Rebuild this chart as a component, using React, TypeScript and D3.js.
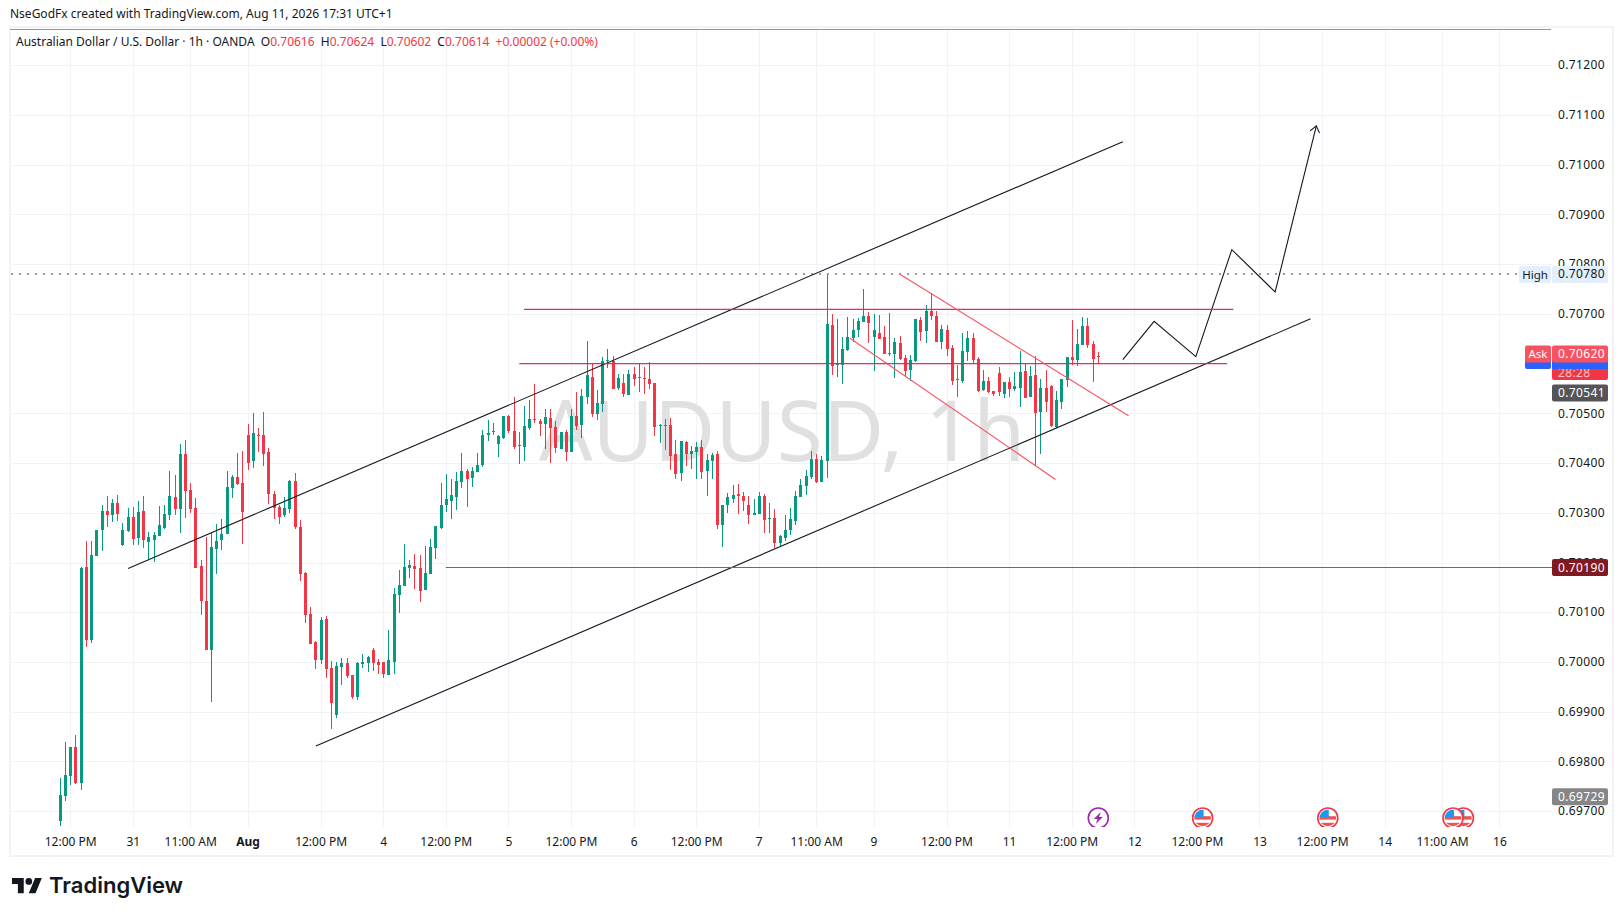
import React from 'react'
import * as d3 from 'd3'

// AUDUSD 1h, prices stored as points above 0.70000 (1 point = 0.00001)
const opens = [
  -320, -269, -229, -171, -243, 191, 45, 213, 265, 303,
  295, 319, 235, 263, 291, 249, 303, 241, 245, 253,
  269, 295, 331, 307, 419, 345, 309, 193, 123, 25,
  227, 245, 257, 349, 371, 359, 457, 405, 457, 457,
  423, 337, 311, 295, 307, 363, 271, 179, 97, 41,
  5, 87, -13, -107, -11, -3, -27, -71, -5, -3,
  25, -1, -1, -27, 1, 135, 153, 189, 193, 189,
  145, 177, 229, 269, 315, 323, 331, 361, 385, 369,
  381, 397, 457, 463, 439, 451, 495, 465, 435, 433,
  471, 489, 485, 479, 491, 473, 429, 463, 423, 495,
  477, 533, 573, 499, 519, 605, 605, 551, 561, 537,
  579, 571, 571, 569, 561, 475, 477, 477, 419, 379,
  443, 419, 423, 433, 383, 405, 419, 275, 315, 327,
  337, 333, 315, 295, 297, 333, 287, 289, 239, 249,
  265, 283, 331, 353, 371, 409, 361, 405, 677, 597,
  597, 627, 651, 667, 683, 695, 653, 661, 653, 621,
  619, 641, 611, 587, 605, 687, 665, 705, 695, 643,
  667, 631, 569, 565, 623, 651, 609, 547, 565, 545,
  581, 539, 563, 549, 551, 585, 533, 577, 503, 551,
  555, 473, 523, 567, 613, 607, 637, 675, 639, 616,
]
const highs = [
  -233, -160, -171, -147, 190, 244, 243, 265, 315, 333,
  327, 335, 280, 309, 311, 323, 333, 261, 261, 313,
  315, 385, 375, 439, 447, 359, 329, 205, 251, 261,
  277, 287, 385, 375, 421, 425, 479, 501, 471, 503,
  431, 343, 315, 331, 365, 379, 285, 181, 111, 43,
  91, 93, 3, 1, 9, 9, -27, 1, 17, 13,
  29, 7, 1, 65, 149, 185, 237, 205, 217, 215,
  233, 247, 273, 359, 377, 367, 381, 421, 389, 393,
  421, 467, 487, 481, 457, 495, 497, 533, 463, 515,
  527, 559, 489, 509, 509, 485, 463, 467, 509, 543,
  549, 645, 601, 547, 613, 629, 615, 579, 579, 587,
  593, 601, 593, 603, 561, 479, 489, 491, 447, 445,
  445, 435, 443, 447, 419, 421, 425, 315, 339, 355,
  357, 341, 333, 327, 341, 337, 319, 307, 255, 295,
  309, 343, 367, 387, 425, 419, 415, 779, 699, 689,
  653, 693, 689, 691, 749, 703, 699, 697, 675, 701,
  651, 655, 617, 617, 689, 693, 717, 741, 705, 677,
  677, 637, 597, 661, 665, 661, 613, 587, 573, 545,
  593, 563, 573, 583, 625, 599, 595, 615, 569, 587,
  557, 545, 569, 613, 687, 669, 693, 691, 645, 624,
]
const lows = [
  -330, -279, -247, -245, -257, 31, 39, 213, 223, 271,
  281, 283, 233, 261, 235, 235, 229, 207, 201, 253,
  267, 285, 295, 259, 289, 299, 189, 95, 25, -81,
  177, 225, 257, 329, 355, 237, 387, 391, 423, 395,
  317, 287, 277, 291, 299, 267, 163, 79, 37, -15,
  -5, -33, -135, -113, -47, -33, -75, -77, -13, -21,
  -19, -25, -33, -27, -25, 99, 153, 169, 147, 121,
  145, 177, 207, 267, 301, 287, 305, 349, 311, 351,
  381, 393, 445, 457, 413, 449, 461, 429, 399, 405,
  467, 481, 455, 429, 401, 421, 429, 405, 423, 467,
  451, 519, 493, 487, 503, 591, 549, 547, 533, 537,
  555, 543, 539, 549, 455, 441, 427, 387, 367, 363,
  395, 389, 367, 367, 333, 367, 267, 231, 299, 319,
  297, 303, 277, 295, 297, 259, 259, 229, 233, 243,
  255, 275, 331, 335, 367, 359, 361, 369, 577, 573,
  559, 625, 643, 653, 683, 641, 585, 649, 619, 615,
  571, 607, 575, 565, 603, 645, 641, 687, 643, 629,
  615, 557, 533, 561, 605, 601, 543, 545, 541, 535,
  535, 531, 533, 545, 513, 531, 533, 395, 419, 503,
  473, 471, 509, 553, 597, 595, 637, 631, 563, 602,
]
const closes = [
  -268, -227, -171, -244, 189, 45, 215, 265, 303, 295,
  319, 297, 265, 291, 247, 301, 245, 251, 255, 275,
  297, 333, 307, 419, 343, 307, 189, 123, 25, 231,
  243, 257, 351, 371, 357, 301, 401, 461, 455, 419,
  337, 309, 291, 309, 363, 271, 177, 95, 37, 5,
  85, -15, -83, -9, -3, -29, -71, -3, 1, 11,
  -3, -7, -25, 5, 137, 155, 191, 195, 187, 143,
  179, 231, 273, 315, 327, 335, 363, 385, 367, 383,
  397, 457, 461, 465, 455, 495, 465, 433, 437, 475,
  489, 487, 479, 493, 471, 431, 463, 423, 495, 475,
  535, 577, 499, 521, 605, 607, 549, 571, 539, 579,
  569, 573, 569, 559, 473, 477, 475, 415, 377, 445,
  419, 425, 433, 381, 407, 417, 275, 315, 331, 335,
  333, 323, 295, 299, 333, 285, 289, 239, 253, 265,
  287, 333, 355, 373, 409, 361, 407, 679, 595, 599,
  629, 653, 667, 685, 695, 681, 667, 649, 619, 619,
  643, 609, 585, 607, 689, 663, 705, 695, 643, 669,
  629, 565, 567, 625, 651, 607, 545, 565, 543, 539,
  543, 563, 549, 555, 583, 531, 575, 501, 551, 523,
  475, 527, 569, 613, 607, 639, 675, 637, 609, 614,
]

const priceTicks = [
  71200, 71100, 71000, 70900, 70800, 70700, 70500, 70400, 70300, 70200, 70100,
  70000, 69900, 69800, 69700,
]
const timeIndex = [2, 14, 25, 36, 50, 62, 74, 86, 98, 110, 122, 134, 145, 156, 170, 182, 194, 206, 218, 230, 242, 254, 265, 276]
const timeLabels = [
  '12:00 PM', '31', '11:00 AM', 'Aug', '12:00 PM', '4', '12:00 PM', '5', '12:00 PM', '6', '12:00 PM', '7',
  '11:00 AM', '9', '12:00 PM', '11', '12:00 PM', '12', '12:00 PM', '13', '12:00 PM', '14', '11:00 AM', '16',
]

// drawings: [bar index, points]
const upperChannel = [[13, 188], [203.7, 1046]]
const lowerChannel = [[49, -169], [239.7, 690]]
const resistance = [[88.9, 709], [224.9, 709]]
const support = [[88, 600], [223.7, 600]]
const demandLine = [[73.9, 190], [292, 190]]
const flagTop = [[160.9, 780], [204.8, 495]]
const flagBottom = [[151.4, 651], [190.8, 367]]
const projection = [[203.7, 608], [209.7, 685], [217.7, 614], [224.6, 829], [232.9, 744], [240.8, 1078]]
const usEvents = [219, 243, 267, 269]
const boltEvent = 199

const WIDTH = 1623
const HEIGHT = 916
const UP = '#089981'
const DOWN = '#f23645'
const GRID = '#f2f3f6'
const TEXT = '#131722'
const FONT = "'Noto Sans', sans-serif"

const x = d3.scaleLinear().domain([0, 199]).range([60.3, 1098.3])
const y = d3.scaleLinear().domain([70500, 70000]).range([413.3, 662])
const py = (p: number) => y(70000 + p)

const seg = d3.line<number[]>().x((d) => x(d[0])).y((d) => py(d[1]))

function Candles() {
  return (
    <g shapeRendering="crispEdges">
      {opens.map((o, i) => {
        const c = closes[i]
        const cx = Math.floor(x(i))
        const color = c >= o ? UP : DOWN
        const top = Math.round(py(Math.max(o, c)))
        const h = Math.max(1, Math.round(py(Math.min(o, c))) - top)
        return (
          <g key={i} fill={color}>
            <rect x={cx} y={py(highs[i])} width={1} height={py(lows[i]) - py(highs[i])} />
            <rect x={cx - 1} y={top} width={3} height={h} />
          </g>
        )
      })}
    </g>
  )
}

function PriceTag(props: { value: number; fill: string; color?: string; label?: string; text?: string; dy?: number }) {
  const { value, fill, color = '#fff', label, text, dy = 0 } = props
  const yy = y(value) + dy
  return (
    <g>
      {label && <rect x={1522} y={yy - 8.5} width={29} height={17} rx={2} fill={fill} />}
      {label && (
        <text x={1536.5} y={yy + 4} textAnchor="middle" fontSize={11.5} fill={color}>
          {label}
        </text>
      )}
      <rect x={1552} y={yy - 8.5} width={56} height={17} rx={2} fill={fill} />
      <text x={1558} y={yy + 4.2} fontSize={12} fill={color} letterSpacing={0.35}>
        {text ?? (value / 100000).toFixed(5)}
      </text>
    </g>
  )
}

function UsFlag({ cx, cy }: { cx: number; cy: number }) {
  const id = `flag-${cx.toFixed(0)}`
  return (
    <g>
      <clipPath id={id}>
        <circle cx={cx} cy={cy} r={8.3} />
      </clipPath>
      <circle cx={cx} cy={cy} r={10} fill="#fff" stroke={DOWN} strokeWidth={1.6} />
      <g clipPath={`url(#${id})`}>
        <rect x={cx - 9} y={cy - 9} width={18} height={18} fill="#fff" />
        <rect x={cx - 9} y={cy - 1.8} width={18} height={3.4} fill="#ef5350" />
        <rect x={cx - 9} y={cy + 4.8} width={18} height={4.5} fill="#ef5350" />
        <rect x={cx - 9} y={cy - 9} width={10} height={8} fill="#2196f3" />
      </g>
    </g>
  )
}

function Bolt({ cx, cy }: { cx: number; cy: number }) {
  return (
    <g>
      <circle cx={cx} cy={cy} r={10} fill="#fff" stroke="#9c27b0" strokeWidth={1.6} />
      <path
        d={`M${cx + 2.5} ${cy - 6} L${cx - 4.5} ${cy + 1} L${cx - 0.8} ${cy + 1} L${cx - 2.5} ${cy + 6} L${cx + 4.5} ${cy - 1} L${cx + 0.8} ${cy - 1} Z`}
        fill="#9c27b0"
      />
    </g>
  )
}

function Arrowhead({ from, to }: { from: number[]; to: number[] }) {
  const x1 = x(to[0])
  const y1 = py(to[1])
  const a = Math.atan2(py(from[1]) - y1, x(from[0]) - x1)
  const wing = (da: number) => `${x1 + Math.cos(a + da) * 8},${y1 + Math.sin(a + da) * 8}`
  return <path d={`M${wing(0.65)} L${x1},${y1} L${wing(-0.65)}`} fill="none" stroke={TEXT} strokeWidth={1.1} />
}

export default function App() {
  const last = projection.length - 1
  return (
    <svg
      width={WIDTH}
      height={HEIGHT}
      viewBox={`0 0 ${WIDTH} ${HEIGHT}`}
      style={{ position: 'absolute', left: 0, top: 0, background: '#fff' }}
      fontFamily={FONT}
    >
      <defs>
        <clipPath id="pane">
          <rect x={11} y={30} width={1541} height={797} />
        </clipPath>
      </defs>

      {/* frame */}
      <g fill="none" stroke="#f2f3f6" strokeWidth={2}>
        <rect x={10} y={27} width={1603} height={829} />
      </g>
      <rect x={10} y={28.5} width={1541} height={1.6} fill="#9598a1" shapeRendering="crispEdges" />

      <text x={10} y={18} fontSize={12} fill={TEXT}>
        NseGodFx created with TradingView.com, Aug 11, 2026 17:31 UTC+1
      </text>

      {/* grid */}
      <g stroke={GRID} shapeRendering="crispEdges">
        {priceTicks.map((t) => (
          <line key={t} x1={11} x2={1552} y1={Math.round(y(t))} y2={Math.round(y(t))} />
        ))}
        {timeIndex.map((t) => (
          <line key={t} x1={Math.floor(x(t))} x2={Math.floor(x(t))} y1={30} y2={827} />
        ))}
      </g>

      <text x={782} y={461} textAnchor="middle" fontSize={84} fill="#e0e0e1">
        AUDUSD, 1h
      </text>

      <g clipPath="url(#pane)">
        <Candles />

        {/* drawings */}
        <path
          d={`M11 ${py(780)} L1552 ${py(780)}`}
          stroke="#787b86"
          strokeWidth={1.4}
          strokeDasharray="2 6"
          fill="none"
        />
        <g fill="none" strokeWidth={1.1} stroke={TEXT}>
          <path d={seg(upperChannel) as string} />
          <path d={seg(lowerChannel) as string} />
          <path d={seg(projection) as string} strokeLinejoin="miter" />
        </g>
        <Arrowhead from={projection[last - 1]} to={projection[last]} />
        <g fill="none" strokeWidth={1.2} stroke="#e91e63" opacity={0.95}>
          <path d={seg(resistance) as string} />
          <path d={seg(support) as string} />
        </g>
        <path d={seg(demandLine) as string} fill="none" stroke="#a3525c" strokeWidth={1.1} />
        <g fill="none" strokeWidth={1.1} stroke="#f7525f">
          <path d={seg(flagTop) as string} />
          <path d={seg(flagBottom) as string} />
        </g>

        <Bolt cx={x(boltEvent)} cy={818} />
        {usEvents
          .slice()
          .reverse()
          .map((e) => (
            <UsFlag key={e} cx={x(e)} cy={818} />
          ))}
      </g>

      {/* price axis */}
      <g fontSize={12} fill={TEXT}>
        {priceTicks.map((t) => (
          <text key={t} x={1558} y={y(t) + 4.2} letterSpacing={0.35}>
            {(t / 100000).toFixed(5)}
          </text>
        ))}
      </g>

      <g>
        <rect x={1519} y={266} width={32} height={17} rx={2} fill="#e3effd" />
        <text x={1535} y={278.5} textAnchor="middle" fontSize={11.5} fill={TEXT}>
          High
        </text>
        <rect x={1552} y={266} width={56} height={17} rx={2} fill="#e3effd" />
        <text x={1558} y={y(70780) + 4.2} fontSize={12} fill={TEXT} letterSpacing={0.35}>
          0.70780
        </text>
      </g>

      <PriceTag value={70190} fill="#801922" />
      <PriceTag value={70541} fill="#555555" />
      <PriceTag value={69729} fill="#868686" />

      {/* last price with countdown, then bid and ask over it */}
      <rect x={1552} y={349} width={56} height={31} rx={2} fill={DOWN} />
      <text x={1558} y={376.5} fontSize={12} fill="#fbc4c9" letterSpacing={0.35}>
        28:28
      </text>
      <rect x={1525} y={352} width={26} height={17} rx={2} fill="#2962ff" />
      <rect x={1552} y={352} width={56} height={17} rx={0} fill="#2962ff" />
      <rect x={1525} y={345.5} width={26} height={17} rx={2} fill="#f7525f" />
      <text x={1538} y={358} textAnchor="middle" fontSize={11.5} fill="#fff">
        Ask
      </text>
      <rect x={1552} y={345.5} width={56} height={17} rx={2} fill="#f7525f" />
      <text x={1558} y={358.2} fontSize={12} fill="#fff" letterSpacing={0.35}>
        0.70620
      </text>

      {/* time axis */}
      <g fontSize={12} fill={TEXT} textAnchor="middle">
        {timeIndex.map((t, i) => (
          <text key={t} x={x(t)} y={846} fontWeight={timeLabels[i] === 'Aug' ? 700 : 400}>
            {timeLabels[i]}
          </text>
        ))}
      </g>

      {/* legend */}
      <text x={16} y={46} fontSize={12} fill={TEXT} xmlSpace="preserve">
        Australian Dollar / U.S. Dollar · 1h · OANDA{'  '}O<tspan fill={DOWN}>0.70616</tspan>{'  '}H
        <tspan fill={DOWN}>0.70624</tspan>{'  '}L<tspan fill={DOWN}>0.70602</tspan>{'  '}C
        <tspan fill={DOWN}>0.70614</tspan>{'  '}
        <tspan fill={DOWN}>+0.00002 (+0.00%)</tspan>
      </text>

      {/* logo */}
      <g transform="translate(12,874.7) scale(0.84)" fill={TEXT}>
        <path d="M14 22H7V11H0V4h14v18zM28 22h-8l7.5-18h8L28 22z" />
        <circle cx={20} cy={8} r={4} />
      </g>
      <text x={49} y={893} fontSize={22} fontWeight={600} fill={TEXT} fontFamily="Inter, sans-serif">
        TradingView
      </text>
    </svg>
  )
}
